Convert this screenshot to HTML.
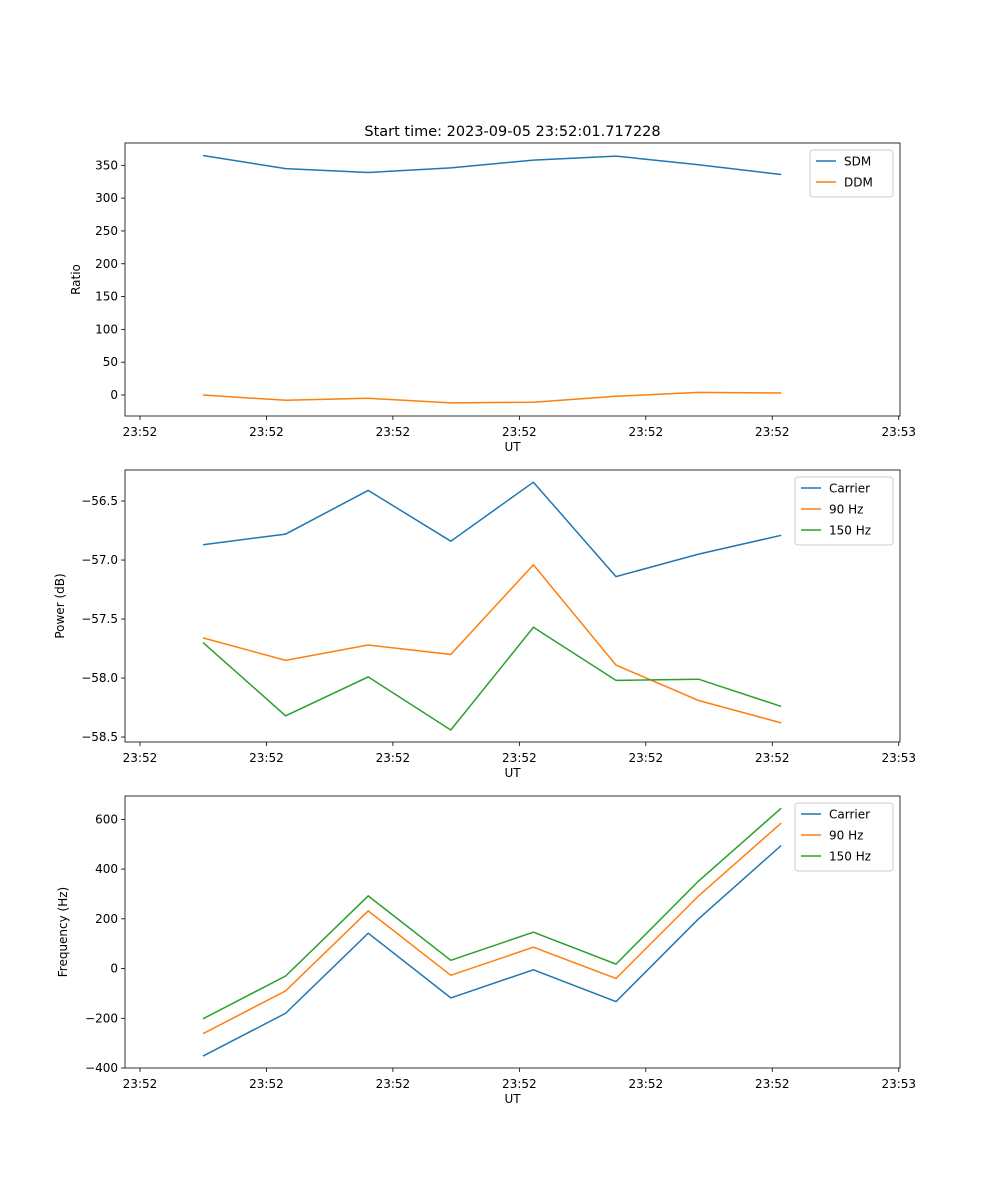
<!DOCTYPE html>
<html><head><meta charset="utf-8">
<style>
html,body{margin:0;padding:0;background:#fff;}
svg{display:block;font-family:"DejaVu Sans","Liberation Sans",sans-serif;}
</style></head>
<body>
<svg id="chart" width="1000" height="1200" viewBox="0 0 1000 1200" xmlns="http://www.w3.org/2000/svg"></svg>
<script>
const times = [0,1,2,3,4,5,6,7];
const xTickValues = [-0.763,0.768,2.299,3.830,5.361,6.892,8.423];
const xTickLabels = ["23:52","23:52","23:52","23:52","23:52","23:52","23:53"];

const sdm = [365,345,339,346,358,364,351,336];
const ddm = [0,-8,-5,-12,-11,-2,4,3];
const ratioTicks = [0,50,100,150,200,250,300,350];

const powCarrier = [-56.87,-56.78,-56.41,-56.84,-56.34,-57.14,-56.95,-56.79];
const pow90 = [-57.66,-57.85,-57.72,-57.80,-57.04,-57.89,-58.19,-58.38];
const pow150 = [-57.70,-58.32,-57.99,-58.44,-57.57,-58.02,-58.01,-58.24];
const powTicks = [-58.5,-58.0,-57.5,-57.0,-56.5];
const powTickLabels = ["\u221258.5","\u221258.0","\u221257.5","\u221257.0","\u221256.5"];

const freqCarrier = [-352,-180,142,-118,-5,-133,200,495];
const freq90 = [-262,-90,232,-27,86,-40,292,585];
const freq150 = [-202,-30,292,33,146,18,352,645];
const freqTicks = [-400,-200,0,200,400,600];
const freqTickLabels = ["\u2212400","\u2212200","0","200","400","600"];

const C1="#1f77b4", C2="#ff7f0e", C3="#2ca02c";
const svg = document.getElementById('chart');
const NS = "http://www.w3.org/2000/svg";
function mk(tag, attrs, parent){
  const e = document.createElementNS(NS, tag);
  for (const k in attrs) e.setAttribute(k, attrs[k]);
  (parent||svg).appendChild(e);
  return e;
}
const X0=125, X1=900;
function xScale(t){ return 203 + t*82.6; }

function panel(name, top, bottom, yMin, yMax, yTicks, yTickLabels, yTitle, series, legend){
  const g = mk('g', {});
  
  
  const ys = v => bottom - (v - yMin) / (yMax - yMin) * (bottom - top);
  xTickValues.forEach((t,i)=>{
    const x = xScale(t);
    const tk = mk('line',{x1:x,x2:x,y1:bottom,y2:bottom+4,stroke:'#000','stroke-width':0.8},g);
    
    
    const tl = mk('text',{x:x,y:bottom+20,'text-anchor':'middle','font-size':12},g);
    
    
    tl.textContent = xTickLabels[i];
  });
  yTicks.forEach((v,i)=>{
    const y = ys(v);
    const tk = mk('line',{x1:X0-4,x2:X0,y1:y,y2:y,stroke:'#000','stroke-width':0.8},g);
    
    
    const tl = mk('text',{x:X0-7,y:y+4,'text-anchor':'end','font-size':12},g);
    
    
    tl.textContent = yTickLabels[i];
  });
  series.forEach(s=>{
    const d = s.values.map((v,i)=>(i?'L':'M')+xScale(times[i]).toFixed(1)+','+ys(v).toFixed(1)).join('');
    const p = mk('path',{d:d,fill:'none',stroke:s.color,'stroke-width':1.5},g);
    
    
  });
  const fr = mk('rect',{x:X0,y:top,width:X1-X0,height:bottom-top,fill:'none',stroke:'#000','stroke-width':0.8},g);
  
  
  const xt = mk('text',{x:(X0+X1)/2,y:bottom+35,'text-anchor':'middle','font-size':12},g);
  
  
  xt.textContent='UT';
  const yx = legend.yTitleX, yy=(top+bottom)/2;
  const yt = mk('text',{x:yx,y:yy,'text-anchor':'middle','font-size':12,transform:`rotate(-90 ${yx} ${yy})`},g);
  
  
  yt.textContent=yTitle;
  const lg = mk('g',{},g);
  
  
  const lb = mk('rect',{x:legend.x,y:top+7,width:X1-7-legend.x,height:series.length*21+5,rx:3,fill:'#fff',stroke:'#ccc','stroke-width':1},lg);
  
  
  series.forEach((s,i)=>{
    const y = top+18+i*21;
    const ln = mk('line',{x1:legend.x+6,x2:legend.x+26,y1:y,y2:y,stroke:s.color,'stroke-width':1.5},lg);
    
    
    const t = mk('text',{x:legend.x+34,y:y+4.5,'font-size':12},lg);
    
    
    t.textContent = s.label;
  });
}

const title = mk('text',{x:512.5,y:136,'text-anchor':'middle','font-size':14.5});


title.textContent='Start time: 2023-09-05 23:52:01.717228';

panel('ratio-panel',143,416,-32,384,ratioTicks,ratioTicks.map(String),'Ratio',
  [{name:'sdm-line',label:'SDM',values:sdm,color:C1},{name:'ddm-line',label:'DDM',values:ddm,color:C2}],
  {x:810,yTitleX:80});
panel('power-panel',470,742,-58.542,-56.237,powTicks,powTickLabels,'Power (dB)',
  [{name:'power-carrier-line',label:'Carrier',values:powCarrier,color:C1},
   {name:'power-90hz-line',label:'90 Hz',values:pow90,color:C2},
   {name:'power-150hz-line',label:'150 Hz',values:pow150,color:C3}],
  {x:795,yTitleX:64});
panel('frequency-panel',796,1068,-400,694,freqTicks,freqTickLabels,'Frequency (Hz)',
  [{name:'freq-carrier-line',label:'Carrier',values:freqCarrier,color:C1},
   {name:'freq-90hz-line',label:'90 Hz',values:freq90,color:C2},
   {name:'freq-150hz-line',label:'150 Hz',values:freq150,color:C3}],
  {x:795,yTitleX:67});
</script>
</body></html>
